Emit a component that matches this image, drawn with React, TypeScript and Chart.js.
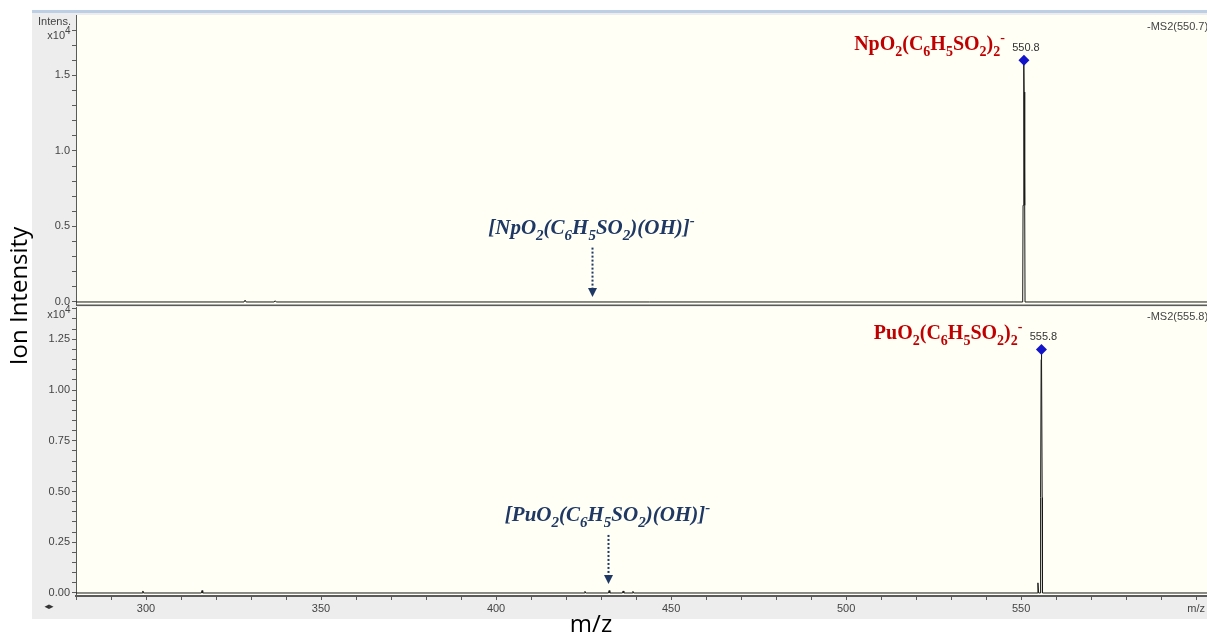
import { useEffect, useRef } from 'react';
import { Chart, registerables } from 'chart.js';

Chart.register(...registerables);

// ---- DATA (intensities in units of 10^4) ----
// Upper panel: MS2 of NpO2(C6H5SO2)2- (precursor 550.7)
const npMz = [280, 328.0, 328.3, 328.6, 336.6, 336.9, 337.2, 550.45, 550.55, 550.72, 550.8, 550.86, 551.02, 551.12, 603.2];
const npIntensity = [0, 0, 0.012, 0, 0, 0.008, 0, 0, 0.64, 1.39, 1.6, 1.39, 0.64, 0, 0];
const npPeakMz = [550.8];
const npPeakIntensity = [1.6];
const npPeakLabels = ['550.8'];

// Lower panel: MS2 of PuO2(C6H5SO2)2- (precursor 555.8)
const puMz = [280, 298.9, 299.1, 299.3, 315.8, 316.0, 316.2, 425.2, 425.4, 425.6, 432.1, 432.3, 432.5, 436.1, 436.3, 436.5, 438.9, 439.1, 439.3, 554.6, 554.8, 555.0, 555.5, 555.56, 555.72, 555.8, 555.86, 556.02, 556.1, 603.2];
const puIntensity = [0, 0, 0.01, 0, 0, 0.012, 0, 0, 0.008, 0, 0, 0.012, 0, 0, 0.01, 0, 0, 0.008, 0, 0, 0.05, 0, 0, 0.47, 1.15, 1.2, 1.15, 0.47, 0, 0];
const puPeakMz = [555.8];
const puPeakIntensity = [1.2];
const puPeakLabels = ['555.8'];

// Axis tick labels
const xTickValues = [300, 350, 400, 450, 500, 550, 600];
const xTickLabels = ['300', '350', '400', '450', '500', '550', 'm/z'];
const topYTickValues = [0, 0.5, 1.0, 1.5];
const topYTickLabels = ['0.0', '0.5', '1.0', '1.5'];
const botYTickValues = [0, 0.25, 0.5, 0.75, 1.0, 1.25];
const botYTickLabels = ['0.00', '0.25', '0.50', '0.75', '1.00', '1.25'];

// Annotations
const npLabel = 'NpO_2(C_6H_5SO_2)_2^-';
const puLabel = 'PuO_2(C_6H_5SO_2)_2^-';
const npFragmentLabel = '[NpO_2(C_6H_5SO_2)(OH)]^-';
const puFragmentLabel = '[PuO_2(C_6H_5SO_2)(OH)]^-';
const npFragmentMz = 427.4;
const puFragmentMz = 432.0;

// ---- STYLES ----
const IVORY = '#fffff5';
const FRAME = '#ededed';
const AXIS = '#5a5a5a';
const TICK_TEXT = '#444444';
const RED = '#c00000';
const NAVY = '#1f3864';
const MARKER = '#1414c8';
const SANS = '"Liberation Sans", Arial, sans-serif';
const SERIF = '"Liberation Serif", "Times New Roman", serif';

function parseRich(s: string) {
  const segs: { t: string; k: number }[] = [];
  let buf = '';
  let i = 0;
  while (i < s.length) {
    const c = s[i];
    if ((c === '_' || c === '^') && i + 1 < s.length) {
      if (buf) { segs.push({ t: buf, k: 0 }); buf = ''; }
      segs.push({ t: s[i + 1], k: c === '_' ? 1 : -1 });
      i += 2;
    } else { buf += c; i++; }
  }
  if (buf) segs.push({ t: buf, k: 0 });
  return segs;
}

function drawRich(ctx: CanvasRenderingContext2D, s: string, x: number, y: number, style: string, size: number, color: string, align: string) {
  const segs = parseRich(s);
  const small = Math.round(size * 0.7);
  const fontFor = (k: number) => `${style} ${k === 0 ? size : small}px ${SERIF}`;
  let total = 0;
  for (const seg of segs) { ctx.font = fontFor(seg.k); total += ctx.measureText(seg.t).width; }
  let cx = align === 'right' ? x - total : align === 'center' ? x - total / 2 : x;
  ctx.save();
  ctx.fillStyle = color;
  ctx.textAlign = 'left';
  ctx.textBaseline = 'alphabetic';
  for (const seg of segs) {
    ctx.font = fontFor(seg.k);
    const dy = seg.k === 1 ? size * 0.27 : seg.k === -1 ? -size * 0.42 : 0;
    ctx.fillText(seg.t, cx, y + dy);
    cx += ctx.measureText(seg.t).width;
  }
  ctx.restore();
}

function labelFor(values: number[], labels: string[], v: number) {
  for (let i = 0; i < values.length; i++) if (Math.abs(values[i] - v) < 1e-6) return labels[i];
  return '';
}

function stepTicks(from: number, to: number, step: number) {
  const out: { value: number }[] = [];
  const n = Math.round((to - from) / step);
  for (let i = 0; i <= n; i++) out.push({ value: Math.round((from + i * step) * 1000) / 1000 });
  return out;
}

function drawFragment(chart: any, mz: number, label: string, labelY: number, arrowTop: number, arrowTip: number) {
  const ctx = chart.ctx as CanvasRenderingContext2D;
  const xs = chart.scales.x, ys = chart.scales.y;
  const px = Math.round(xs.getPixelForValue(mz)) + 0.5;
  drawRich(ctx, label, px - 1, ys.getPixelForValue(labelY), 'italic bold', 21, NAVY, 'center');
  const top = ys.getPixelForValue(arrowTop);
  const tip = ys.getPixelForValue(arrowTip);
  ctx.save();
  ctx.strokeStyle = NAVY;
  ctx.lineWidth = 2;
  ctx.setLineDash([2, 2]);
  ctx.beginPath();
  ctx.moveTo(px, top);
  ctx.lineTo(px, tip - 8);
  ctx.stroke();
  ctx.setLineDash([]);
  ctx.fillStyle = NAVY;
  ctx.beginPath();
  ctx.moveTo(px - 4.5, tip - 9);
  ctx.lineTo(px + 4.5, tip - 9);
  ctx.lineTo(px, tip);
  ctx.closePath();
  ctx.fill();
  ctx.restore();
}

function drawPeakLabels(chart: any, mzs: number[], ints: number[], labels: string[], formula: string) {
  const ctx = chart.ctx as CanvasRenderingContext2D;
  const xs = chart.scales.x, ys = chart.scales.y;
  mzs.forEach((mz, i) => {
    const px = xs.getPixelForValue(mz);
    const py = ys.getPixelForValue(ints[i]);
    ctx.save();
    ctx.font = `11px ${SANS}`;
    ctx.fillStyle = '#333333';
    ctx.textAlign = 'center';
    ctx.textBaseline = 'middle';
    ctx.fillText(labels[i], px + 2, py - 12);
    ctx.restore();
    drawRich(ctx, formula, px - 19, py - 10, 'bold', 20, RED, 'right');
  });
}

function drawSmall(ctx: CanvasRenderingContext2D, text: string, x: number, y: number, align: CanvasTextAlign, size = 11) {
  ctx.save();
  ctx.font = `${size}px ${SANS}`;
  ctx.fillStyle = TICK_TEXT;
  ctx.textAlign = align;
  ctx.textBaseline = 'middle';
  ctx.fillText(text, x, y);
  ctx.restore();
}

function drawExp(ctx: CanvasRenderingContext2D, y: number) {
  drawSmall(ctx, 'x10', 65, y + 2, 'right');
  drawSmall(ctx, '4', 65, y - 3, 'left', 10);
}

function yScale(min: number, max: number, step: number, values: number[], labels: string[]) {
  return {
    min, max,
    afterBuildTicks: (s: any) => { s.ticks = stepTicks(0, Math.floor(max / step) * step, step); },
    afterFit: (s: any) => { s.width = 76; s.paddingTop = 0; s.paddingBottom = 0; },
    ticks: {
      autoSkip: false,
      padding: 2,
      color: TICK_TEXT,
      font: { family: SANS, size: 11 },
      callback: (v: any) => labelFor(values, labels, Number(v)),
    },
    grid: { drawOnChartArea: false, tickLength: 4, color: AXIS },
    border: { color: AXIS, width: 1 },
  };
}

function datasets(mz: number[], ints: number[], pMz: number[], pInt: number[]) {
  return [
    {
      type: 'scatter',
      data: pMz.map((x, i) => ({ x, y: pInt[i] })),
      pointStyle: 'rectRot',
      pointRadius: 5.5,
      backgroundColor: MARKER,
      borderColor: MARKER,
      borderWidth: 0,
      order: 0,
    },
    {
      type: 'line',
      data: mz.map((x, i) => ({ x, y: ints[i] })),
      borderColor: '#1a1a1a',
      borderWidth: 1,
      pointRadius: 0,
      tension: 0,
      fill: false,
      order: 1,
    },
  ];
}

function bottomConfig(): any {
  return {
    type: 'line',
    data: { datasets: datasets(puMz, puIntensity, puPeakMz, puPeakIntensity) },
    options: {
      responsive: false,
      animation: false,
      devicePixelRatio: 1,
      layout: { autoPadding: false, padding: { top: 307, bottom: 0, left: 0, right: 0 } },
      plugins: { legend: { display: false }, tooltip: { enabled: false } },
      scales: {
        x: {
          type: 'linear',
          min: 280,
          max: 603.1,
          afterBuildTicks: (s: any) => { s.ticks = stepTicks(280, 600, 10); },
          afterFit: (s: any) => { s.height = 42; s.paddingLeft = 0; s.paddingRight = 0; },
          ticks: {
            autoSkip: false,
            maxRotation: 0,
            padding: 2,
            color: TICK_TEXT,
            font: { family: SANS, size: 11 },
            callback: (v: any) => labelFor(xTickValues, xTickLabels, Number(v)),
          },
          grid: { drawOnChartArea: false, tickLength: 4, color: AXIS },
          border: { color: AXIS, width: 2 },
        },
        y: yScale(-0.0148, 1.409, 0.05, botYTickValues, botYTickLabels),
      },
    },
    plugins: [{
      id: 'bottomDecor',
      beforeDraw(chart: any) {
        const ctx = chart.ctx as CanvasRenderingContext2D;
        const a = chart.chartArea;
        ctx.save();
        ctx.fillStyle = '#ffffff';
        ctx.fillRect(0, 0, chart.width, chart.height);
        ctx.fillStyle = FRAME;
        ctx.fillRect(32, 10, chart.width - 32, 609);
        ctx.fillStyle = '#bccfe5';
        ctx.fillRect(32, 10, chart.width - 32, 3);
        ctx.fillStyle = IVORY;
        ctx.fillRect(a.left, a.top, a.right - a.left, a.bottom - a.top);
        ctx.restore();
      },
      afterDraw(chart: any) {
        const ctx = chart.ctx as CanvasRenderingContext2D;
        const a = chart.chartArea;
        ctx.save();
        ctx.fillStyle = '#000000';
        ctx.font = `24px "Open Sans", sans-serif`;
        ctx.textAlign = 'center';
        ctx.textBaseline = 'middle';
        ctx.translate(20, 296);
        ctx.rotate(-Math.PI / 2);
        ctx.fillText('Ion Intensity', 0, 0);
        ctx.restore();
        ctx.save();
        ctx.fillStyle = '#000000';
        ctx.font = `24px "Open Sans", sans-serif`;
        ctx.textAlign = 'center';
        ctx.textBaseline = 'middle';
        ctx.fillText('m/z', 591, 625);
        ctx.font = `9px "DejaVu Sans", sans-serif`;
        ctx.fillStyle = '#333333';
        ctx.fillText('◂▸', 49, 607);
        ctx.restore();
        drawExp(ctx, a.top + 6);
        drawSmall(ctx, '-MS2(555.8)', 1147, a.top + 10, 'left');
        drawPeakLabels(chart, puPeakMz, puPeakIntensity, puPeakLabels, puLabel);
        drawFragment(chart, puFragmentMz, puFragmentLabel, 0.355, 0.286, 0.044);
      },
    }],
  };
}

function topConfig(): any {
  return {
    type: 'line',
    data: { datasets: datasets(npMz, npIntensity, npPeakMz, npPeakIntensity) },
    options: {
      responsive: false,
      animation: false,
      devicePixelRatio: 1,
      layout: { autoPadding: false, padding: { top: 15, bottom: 1, left: 0, right: 0 } },
      plugins: { legend: { display: false }, tooltip: { enabled: false } },
      scales: {
        x: { type: 'linear', min: 280, max: 603.1, display: false },
        y: yScale(-0.02, 1.9, 0.1, topYTickValues, topYTickLabels),
      },
    },
    plugins: [{
      id: 'topDecor',
      beforeDraw(chart: any) {
        const ctx = chart.ctx as CanvasRenderingContext2D;
        const a = chart.chartArea;
        ctx.save();
        ctx.fillStyle = IVORY;
        ctx.fillRect(a.left, a.top, a.right - a.left, a.bottom - a.top);
        ctx.restore();
      },
      afterDraw(chart: any) {
        const ctx = chart.ctx as CanvasRenderingContext2D;
        const a = chart.chartArea;
        ctx.save();
        ctx.strokeStyle = AXIS;
        ctx.lineWidth = 1.5;
        ctx.beginPath();
        ctx.moveTo(a.left, a.bottom + 0.25);
        ctx.lineTo(a.right, a.bottom + 0.25);
        ctx.stroke();
        ctx.restore();
        drawSmall(ctx, 'Intens.', 38, 22, 'left');
        drawExp(ctx, 34);
        drawSmall(ctx, '-MS2(550.7)', 1147, 27, 'left');
        drawPeakLabels(chart, npPeakMz, npPeakIntensity, npPeakLabels, npLabel);
        drawFragment(chart, npFragmentMz, npFragmentLabel, 0.45, 0.36, 0.033);
      },
    }],
  };
}

export default function App() {
  const bottomRef = useRef<HTMLCanvasElement>(null);
  const topRef = useRef<HTMLCanvasElement>(null);
  useEffect(() => {
    const b = new Chart(bottomRef.current as HTMLCanvasElement, bottomConfig());
    const t = new Chart(topRef.current as HTMLCanvasElement, topConfig());
    return () => { t.destroy(); b.destroy(); };
  }, []);
  return (
    <div style={{ position: 'absolute', left: 0, top: 0, width: 1207, height: 638, overflow: 'hidden' }}>
      <canvas ref={bottomRef} width={1207} height={638} style={{ position: 'absolute', left: 0, top: 0, width: 1207, height: 638 }} />
      <canvas ref={topRef} width={1207} height={306} style={{ position: 'absolute', left: 0, top: 0, width: 1207, height: 306 }} />
    </div>
  );
}
